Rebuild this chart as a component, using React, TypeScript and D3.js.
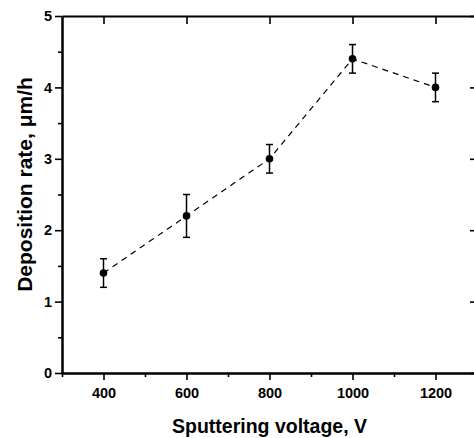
import { useRef, useEffect } from 'react'
import * as d3 from 'd3'

const WIDTH = 474
const HEIGHT = 438
const MARGIN = { top: 16, right: -3, bottom: 65, left: 62 }

const VOLTAGE = [400, 600, 800, 1000, 1200]
const RATE = [1.4, 2.2, 3.0, 4.4, 4.0]
const ERR = [0.2, 0.3, 0.2, 0.2, 0.2]

const X_TICKS = [400, 600, 800, 1000, 1200]
const X_MINOR = [300, 500, 700, 900, 1100, 1300]
const Y_TICKS = [0, 1, 2, 3, 4, 5]
const Y_MINOR = [0.5, 1.5, 2.5, 3.5, 4.5]

const FONT = '"Liberation Sans", Arial, sans-serif'

export default function App() {
  const svgRef = useRef<SVGSVGElement>(null)

  useEffect(() => {
    if (!svgRef.current) return
    const iw = WIDTH - MARGIN.left - MARGIN.right
    const ih = HEIGHT - MARGIN.top - MARGIN.bottom

    const x = d3.scaleLinear().domain([300, 1300]).range([0, iw])
    const y = d3.scaleLinear().domain([0, 5]).range([ih, 0])

    const svg = d3.select(svgRef.current)
    svg.selectAll('*').remove()
    const g = svg.append('g').attr('transform', `translate(${MARGIN.left},${MARGIN.top})`)

    const style = (sel: any) => {
      sel.select('.domain').attr('stroke', '#000').attr('stroke-width', 2)
      sel.selectAll('.tick line').attr('stroke', '#000').attr('stroke-width', 1.6)
      sel.selectAll('text').attr('fill', '#000').attr('font-size', 14.5)
        .attr('font-weight', 'bold').attr('font-family', FONT)
    }

    // minor ticks first so major sit on top
    g.append('g').attr('transform', `translate(0,${ih})`)
      .call(d3.axisBottom(x).tickValues(X_MINOR).tickSize(4).tickFormat(() => '').tickSizeOuter(0))
      .call(style)
    g.append('g')
      .call(d3.axisLeft(y).tickValues(Y_MINOR).tickSize(4).tickFormat(() => '').tickSizeOuter(0))
      .call(style)

    g.append('g').attr('transform', `translate(0,${ih})`)
      .call(d3.axisBottom(x).tickValues(X_TICKS).tickSize(7).tickPadding(8).tickSizeOuter(0).tickFormat(d3.format('d')))
      .call(style)
    g.append('g')
      .call(d3.axisLeft(y).tickValues(Y_TICKS).tickSize(7).tickPadding(3).tickSizeOuter(0).tickFormat(d3.format('d')))
      .call(style)

    // top and right frame with inward ticks
    g.append('g')
      .call(d3.axisBottom(x).tickValues(X_TICKS).tickSize(8).tickFormat(() => '').tickSizeOuter(0))
      .call(style)
    g.append('g').attr('transform', `translate(${iw},0)`)
      .call(d3.axisLeft(y).tickValues(Y_TICKS).tickSize(7).tickFormat(() => '').tickSizeOuter(0))
      .call(style)

    // dashed connecting line
    const pts = VOLTAGE.map((v, i) => ({ v, r: RATE[i], e: ERR[i] }))
    const line = d3.line<{ v: number; r: number }>().x(d => x(d.v)).y(d => y(d.r))
    g.append('path').datum(pts).attr('d', line)
      .attr('fill', 'none').attr('stroke', '#000').attr('stroke-width', 1.2)
      .attr('stroke-dasharray', '6,5')

    // error bars
    const eb = g.append('g').attr('stroke', '#000').attr('stroke-width', 1.5)
    pts.forEach(d => {
      eb.append('line').attr('x1', x(d.v)).attr('x2', x(d.v))
        .attr('y1', y(d.r - d.e)).attr('y2', y(d.r + d.e))
      ;[d.r - d.e, d.r + d.e].forEach(val => {
        eb.append('line').attr('x1', x(d.v) - 3.5).attr('x2', x(d.v) + 3.5)
          .attr('y1', y(val)).attr('y2', y(val))
      })
    })

    // points
    g.selectAll('circle.pt').data(pts).enter().append('circle')
      .attr('cx', d => x(d.v)).attr('cy', d => y(d.r)).attr('r', 3.8).attr('fill', '#000')

    // axis titles
    svg.append('text')
      .attr('x', MARGIN.left + (x(300) + x(1300)) / 2).attr('y', 433)
      .attr('text-anchor', 'middle').attr('font-family', FONT)
      .attr('font-weight', 'bold').attr('font-size', 19.5)
      .text('Sputtering voltage, V')

    svg.append('text')
      .attr('transform', `translate(32,${MARGIN.top + ih / 2 - 10}) rotate(-90)`)
      .attr('text-anchor', 'middle').attr('font-family', FONT)
      .attr('font-weight', 'bold').attr('font-size', 21)
      .text('Deposition rate, μm/h')
  }, [])

  return (
    <svg ref={svgRef} width={WIDTH} height={HEIGHT}
      style={{ position: 'absolute', left: 0, top: 0, background: '#fff' }} />
  )
}
